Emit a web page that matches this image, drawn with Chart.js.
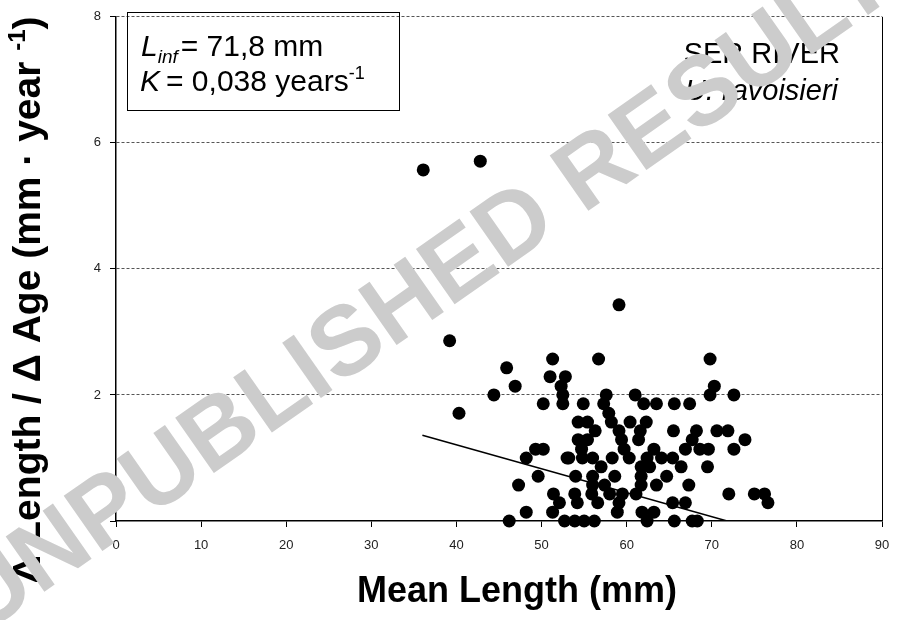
<!DOCTYPE html>
<html>
<head>
<meta charset="utf-8">
<script src="https://cdn.jsdelivr.net/npm/chart.js@4.4.0/dist/chart.umd.min.js"></script>
<style>
  html, body { margin: 0; padding: 0; background: #fff; }
  #wrap { width: 903px; height: 620px; position: relative; }
</style>
</head>
<body>
<div id="wrap"><canvas id="chart"></canvas></div>
<script>
// observed points: mean length (mm) vs growth (mm/year)
const meanLength = [
  36.1, 42.8, 39.2, 59.1,
  45.9, 46.9, 44.4, 40.3, 48.2, 47.3, 48.2, 46.2,
  51.3, 51.0, 52.8, 52.3, 52.5, 50.2, 52.5, 49.3, 50.2, 53.0, 49.6, 51.4, 52.1, 51.3, 52.7,
  56.7, 57.6, 61.0, 54.9, 57.3, 62.0, 63.5, 65.6, 57.9,
  54.3, 55.4, 58.2, 60.4, 62.3, 56.3, 59.1, 61.6, 65.5,
  54.3, 55.4, 59.4, 61.4, 54.7, 59.7, 63.2,
  53.2, 54.8, 56.0, 58.3, 60.3, 62.4, 64.1, 65.4,
  57.0, 61.7, 62.7, 54.0, 56.0, 58.6, 61.7, 64.7,
  56.0, 57.4, 61.7, 63.5, 53.9, 55.9, 58.0, 59.5, 61.1,
  54.2, 56.6, 59.1, 65.4, 58.9, 61.8, 63.2,
  53.9, 55.0, 56.2, 62.4, 65.6,
  69.8, 70.3, 69.8, 72.6, 67.4, 68.2, 70.6, 71.9, 67.7, 73.9,
  66.9, 68.6, 69.6, 72.6, 66.4, 69.5, 67.3, 72.0, 75.0, 76.2, 76.6, 66.9, 67.7, 68.3
];
const growthRate = [
  5.57, 5.71, 2.86, 3.43,
  2.43, 2.14, 2.00, 1.71, 1.00, 0.57, 0.14, 0.00,
  2.57, 2.29, 2.29, 2.14, 2.00, 1.86, 1.86, 1.14, 1.14, 1.00, 0.71, 0.43, 0.29, 0.14, 0.00,
  2.57, 2.00, 2.00, 1.86, 1.86, 1.86, 1.86, 1.86, 1.71,
  1.57, 1.57, 1.57, 1.57, 1.57, 1.43, 1.43, 1.43, 1.43,
  1.29, 1.29, 1.29, 1.29, 1.14, 1.14, 1.14,
  1.00, 1.00, 1.00, 1.00, 1.00, 1.00, 1.00, 1.00,
  0.86, 0.86, 0.86, 0.71, 0.71, 0.71, 0.71, 0.71,
  0.57, 0.57, 0.57, 0.57, 0.43, 0.43, 0.43, 0.43, 0.43,
  0.29, 0.29, 0.29, 0.29, 0.14, 0.14, 0.14,
  0.00, 0.00, 0.00, 0.00, 0.00,
  2.57, 2.14, 2.00, 2.00, 1.86, 1.43, 1.43, 1.43, 1.29, 1.29,
  1.14, 1.14, 1.14, 1.14, 0.86, 0.86, 0.57, 0.43, 0.43, 0.43, 0.29, 0.29, 0.00, 0.00
];
// fitted line
const fitLength = [36, 71.8];
const fitRate = [1.36, 0];

const xTicks = [0, 10, 20, 30, 40, 50, 60, 70, 80, 90];
const yTicks = [0, 2, 4, 6, 8];

const FONT = "'Liberation Sans', Arial, sans-serif";

const points = meanLength.map((x, i) => ({ x: x, y: growthRate[i] }));
const fit = fitLength.map((x, i) => ({ x: x, y: fitRate[i] }));

// draws runs of text with different styles one after another
function drawRuns(ctx, runs, x, y) {
  let cx = x;
  runs.forEach(r => {
    ctx.font = r.font;
    ctx.fillText(r.text, cx, y + (r.dy || 0));
    cx += ctx.measureText(r.text).width + (r.gap || 0);
  });
  return cx;
}
function runsWidth(ctx, runs) {
  let w = 0;
  runs.forEach(r => { ctx.font = r.font; w += ctx.measureText(r.text).width + (r.gap || 0); });
  return w;
}

const decorations = {
  id: "decorations",
  afterDraw(chart) {
    const ctx = chart.ctx;
    const area = chart.chartArea;
    ctx.save();

    // right frame line
    ctx.strokeStyle = "#000";
    ctx.lineWidth = 1;
    ctx.beginPath();
    ctx.moveTo(area.right + 0.5, area.top);
    ctx.lineTo(area.right + 0.5, area.bottom);
    ctx.stroke();

    // parameter box
    ctx.strokeRect(127.5, 12.5, 272, 98);
    ctx.fillStyle = "#000";
    ctx.textBaseline = "alphabetic";
    ctx.textAlign = "left";
    drawRuns(ctx, [
      { text: "L", font: "italic 30px " + FONT },
      { text: "inf", font: "italic 19px " + FONT, dy: 7, gap: 3 },
      { text: "= 71,8 mm", font: "30px " + FONT }
    ], 141, 56);
    drawRuns(ctx, [
      { text: "K", font: "italic 30px " + FONT, gap: 6 },
      { text: "= 0,038 years", font: "30px " + FONT },
      { text: "-1", font: "18px " + FONT, dy: -12 }
    ], 140, 91);

    // river / species label
    ctx.textAlign = "right";
    ctx.font = "29px " + FONT;
    ctx.fillText("SER RIVER", 840, 63);
    ctx.font = "italic 29px " + FONT;
    ctx.fillText("U. ravoisieri", 838, 100);

    // x title
    ctx.textAlign = "center";
    ctx.font = "bold 36px " + FONT;
    ctx.fillText("Mean Length (mm)", 517, 602);

    // y title
    const yRuns = [
      { text: "\u0394 Length / \u0394 Age (mm \u00b7 year ", font: "bold 39px " + FONT },
      { text: "-1", font: "bold 24px " + FONT, dy: -15 },
      { text: ")", font: "bold 39px " + FONT }
    ];
    ctx.textAlign = "left";
    ctx.translate(40, 300);
    ctx.rotate(-Math.PI / 2);
    drawRuns(ctx, yRuns, -runsWidth(ctx, yRuns) / 2, 0);
    ctx.setTransform(1, 0, 0, 1, 0, 0);

    // watermark
    ctx.fillStyle = "#cccccc";
    ctx.font = "bold 98px " + FONT;
    ctx.textAlign = "left";
    ctx.translate(-19, 636);
    ctx.rotate(-35 * Math.PI / 180);
    ctx.fillText("UNPUBLISHED RESULTS", 0, 0);
    ctx.restore();
  }
};

new Chart(document.getElementById("chart"), {
  type: "scatter",
  data: {
    datasets: [
      {
        label: "observed",
        data: points,
        pointRadius: 6.5,
        pointBackgroundColor: "#000",
        pointBorderWidth: 0,
        clip: false
      },
      {
        type: "line",
        label: "fit",
        data: fit,
        borderColor: "#000",
        borderWidth: 1.5,
        pointRadius: 0,
        fill: false
      }
    ]
  },
  options: {
    responsive: true,
    maintainAspectRatio: false,
    animation: false,
    layout: { padding: { top: 9, right: 21, bottom: 0, left: 0 } },
    plugins: {
      legend: { display: false },
      tooltip: { enabled: false }
    },
    scales: {
      x: {
        type: "linear",
        min: 0,
        max: 90,
        afterBuildTicks: scale => { scale.ticks = xTicks.map(v => ({ value: v })); },
        afterFit: scale => { scale.height = 99; },
        grid: { drawOnChartArea: false, drawTicks: true, tickLength: 6, tickColor: "#000", tickWidth: 1 },
        border: { color: "#000", width: 1.5 },
        ticks: { color: "#222", padding: 11, font: { family: FONT, size: 13 } }
      },
      y: {
        type: "linear",
        min: 0,
        max: 8,
        afterBuildTicks: scale => { scale.ticks = yTicks.map(v => ({ value: v })); },
        afterFit: scale => { scale.width = 116; },
        grid: {
          color: c => (c.tick && c.tick.value === 0 ? "rgba(0,0,0,0)" : "#555"),
          lineWidth: 1,
          drawTicks: true,
          tickLength: 6,
          tickColor: "#000",
          tickWidth: 1
        },
        border: { color: "#000", width: 1.5, dash: [3, 2] },
        ticks: { color: "#222", padding: 9, font: { family: FONT, size: 13 } }
      }
    }
  },
  plugins: [decorations]
});
</script>
</body>
</html>
